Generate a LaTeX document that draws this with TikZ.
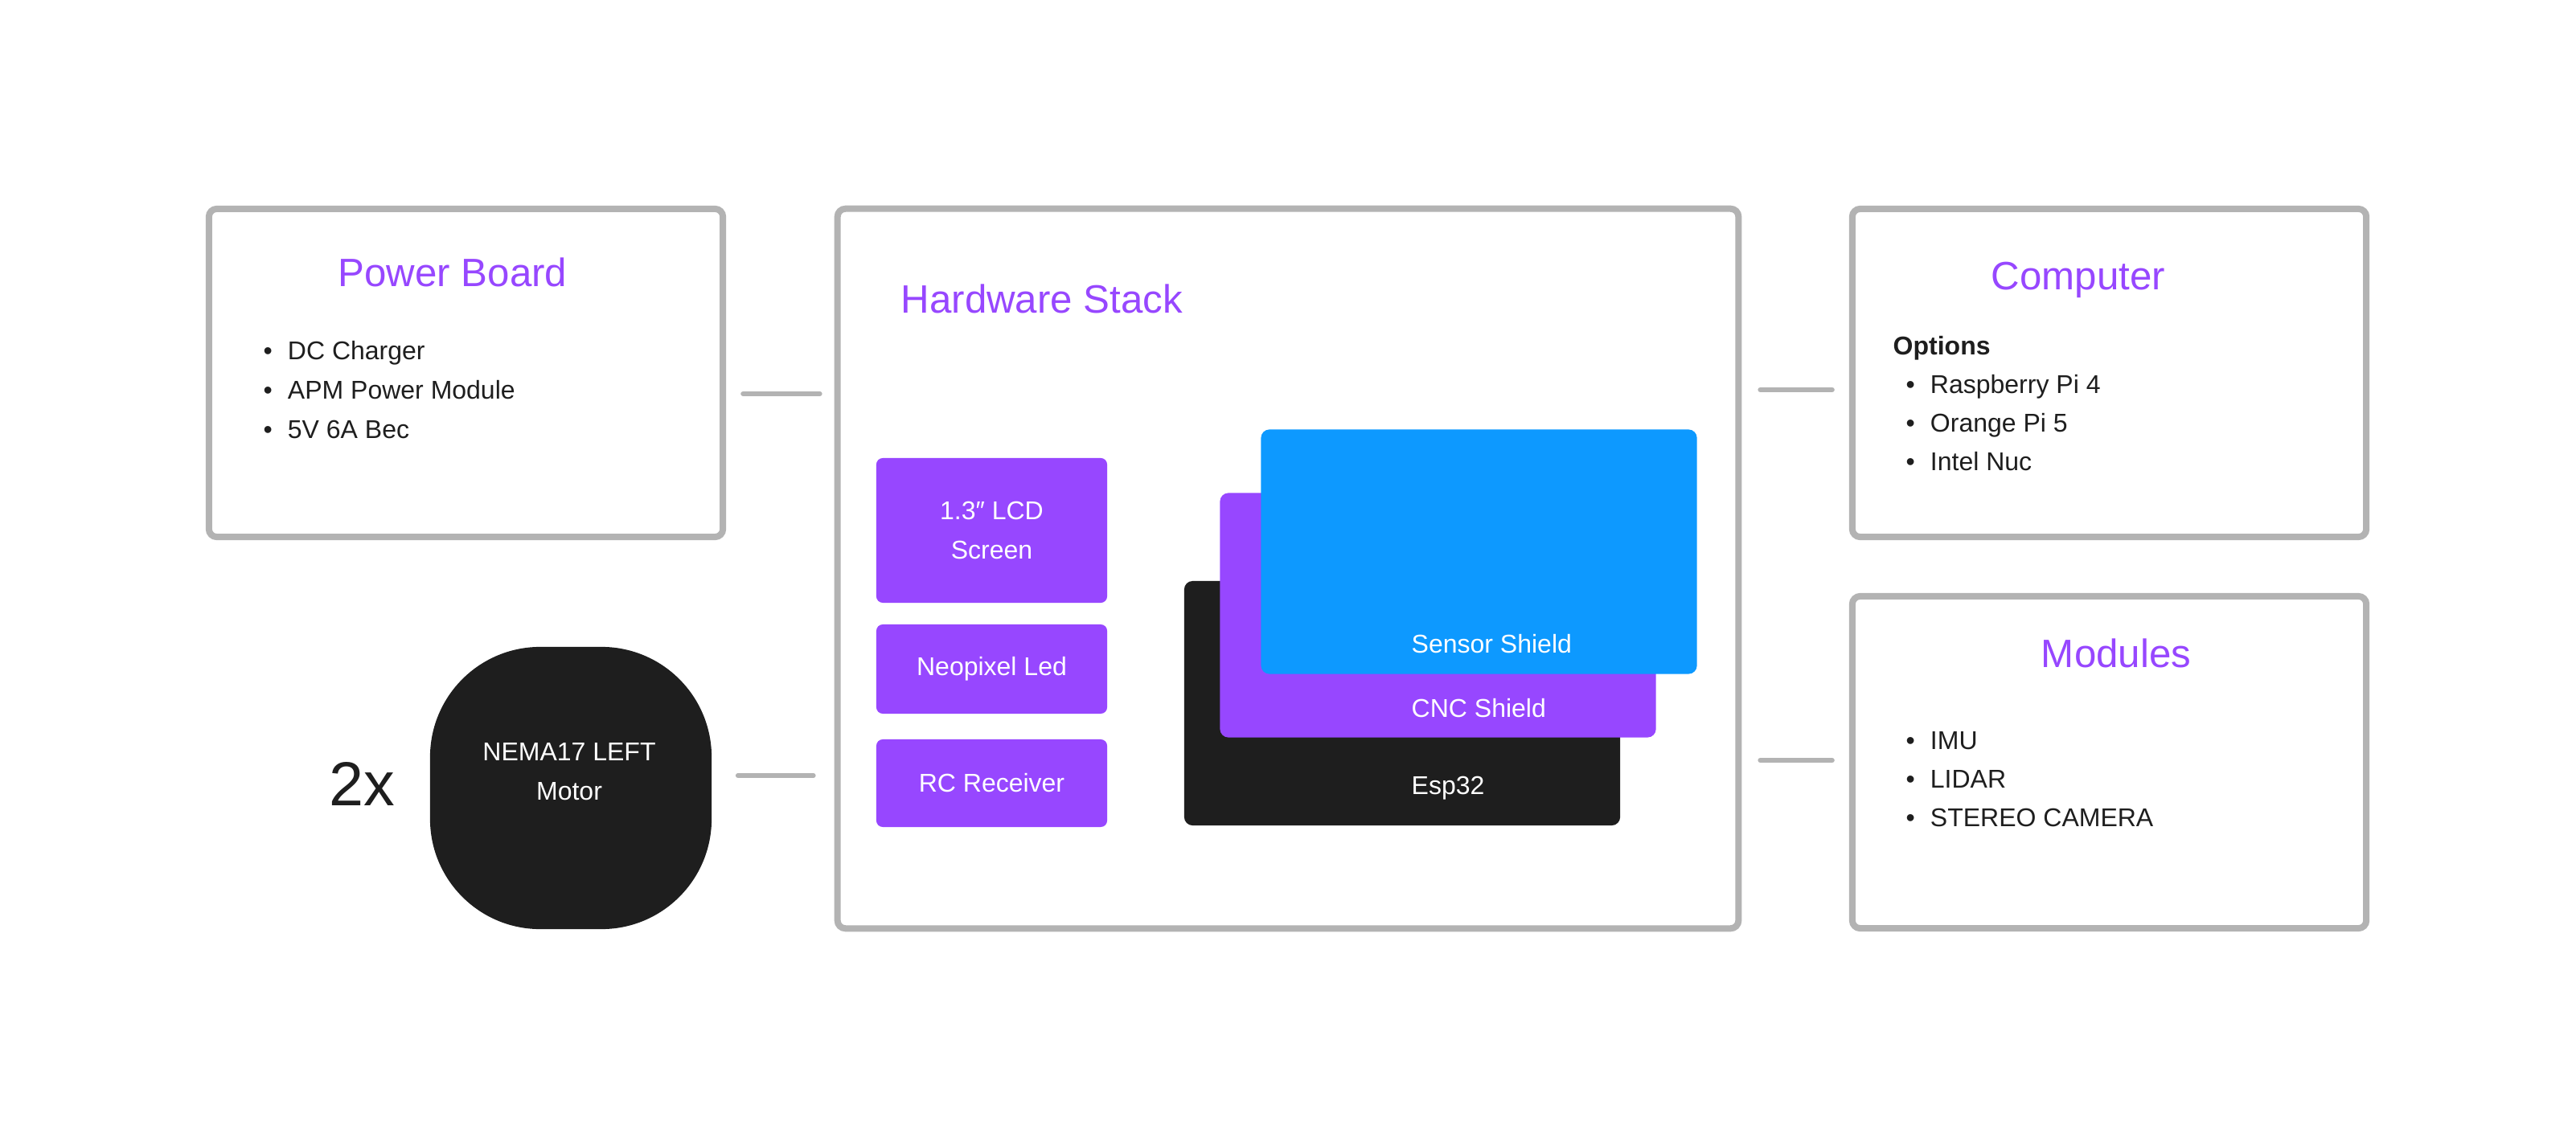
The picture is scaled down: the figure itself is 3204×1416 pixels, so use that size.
\documentclass[tikz,border=0pt]{standalone}
\usepackage{fontspec}
\setmainfont{Liberation Sans}
\usetikzlibrary{positioning,calc}
\definecolor{figPurple}{HTML}{9747FF}
\definecolor{figBlue}{HTML}{0D99FF}
\definecolor{figDark}{HTML}{1E1E1E}
\definecolor{figGrey}{HTML}{B3B3B3}
\newcommand{\bodyfont}{\fontsize{9.1}{13.66}\selectfont}
\newcommand{\titlefont}{\fontsize{14}{16}\selectfont}
\newcommand{\bitem}[1]{\makebox[8.6pt][l]{\textbullet}#1}
\tikzset{
  panel box/.style={
    rectangle, rounded corners=2.8pt,
    draw=figGrey, line width=2.28pt, fill=white,
  },
  part box/.style={
    rectangle, rounded corners=2.3pt,
    fill=figPurple, text=white, font=\bodyfont,
    minimum width=2.87cm, align=center,
  },
  board box/.style={
    rectangle, rounded corners=3pt,
    minimum width=5.42cm, minimum height=3.04cm,
  },
  motor box/.style={
    rectangle, rounded corners=1.37cm, fill=figDark,
    minimum width=3.5cm, minimum height=3.51cm,
  },
  panel title/.style={font=\titlefont, text=figPurple, inner sep=0pt, anchor=base},
  list item/.style={font=\bodyfont, text=figDark, inner sep=0pt, anchor=base west},
  on fill/.style={font=\bodyfont, text=white, inner sep=0pt, anchor=base},
  link/.style={draw=figGrey, line width=1.7pt, line cap=round},
}

\begin{document}
\begin{tikzpicture}[x=0.01cm, y=-0.01cm]
\useasboundingbox (0,0) rectangle (3204,1416);

% --- PANELS ---
\node[panel box, minimum width=6.39cm, minimum height=4.08cm] (pb) at (579.5,464) {};
\node[panel box, minimum width=11.2cm, minimum height=8.95cm] (hw) at (1602,707.5) {};
\node[panel box, minimum width=6.39cm, minimum height=4.08cm] (comp) at (2623.5,464) {};
\node[panel box, minimum width=6.39cm, minimum height=4.13cm] (mods) at (2623.5,948.5) {};

% --- TITLES ---
\node[panel title] (pbT) at (563,357) {Power Board};
\node[panel title, anchor=base west] (hwT) at (1120,390) {Hardware Stack};
\node[panel title] (compT) at (2585,361) {Computer};
\node[panel title] (modsT) at (2632,830) {Modules};

% --- LISTS ---
\foreach \i/\txt in {0/DC Charger, 1/APM Power Module, 2/5V 6A Bec}
  \node[list item] (pb\i) at (327,{448+48.5*\i}) {\bitem{\txt}};
\node[list item, font=\bodyfont\bfseries] (opts) at (2354,442) {Options};
\foreach \i/\txt in {0/Raspberry Pi 4, 1/Orange Pi 5, 2/Intel Nuc}
  \node[list item] (comp\i) at (2370,{490+47.5*\i}) {\bitem{\txt}};
\foreach \i/\txt in {0/IMU, 1/LIDAR, 2/STEREO CAMERA}
  \node[list item] (mods\i) at (2370,{932+48*\i}) {\bitem{\txt}};

% --- PARTS ---
\node[part box, minimum height=1.80cm] (lcd) at (1233.5,660) {1.3″ LCD\\Screen};
\node[part box, minimum height=1.11cm] (neo) at (1233.5,832.5) {Neopixel Led};
\node[part box, minimum height=1.09cm] (rc) at (1233.5,974.5) {RC Receiver};

% --- BOARD STACK (bottom to top) ---
\foreach \bname/\bx/\by/\bcol/\blabel/\ty in {%
  esp/1744/875/figDark/Esp32/988,%
  cnc/1788.5/765.5/figPurple/CNC Shield/892,%
  sensor/1839.5/686.5/figBlue/Sensor Shield/812%
}{
  \node[board box, fill=\bcol] (\bname) at (\bx,\by) {};
  \node[on fill, anchor=base west] (\bname-txt) at (1755,\ty) {\blabel};
}

% --- MOTOR ---
\node[motor box] (motor) at (710,980.5) {};
\node[on fill] (motorT1) at (708,946) {NEMA17 LEFT};
\node[on fill] (motorT2) at (708,995) {Motor};
\node[font=\fontsize{22}{26}\selectfont, text=figDark, inner sep=0pt, anchor=base]
  (count) at (450.5,1002) {2x};

% --- LINKS ---
\coordinate (yPB) at (0,490);
\coordinate (yMO) at (0,965);
\coordinate (yCO) at (0,485);
\coordinate (yMD) at (0,946);
\draw[link, shorten <=0.21cm, shorten >=0.18cm] (pb.east |- yPB) -- (hw.west |- yPB);
\draw[link, shorten <=0.32cm, shorten >=0.26cm] (motor.east |- yMO) -- (hw.west |- yMO);
\draw[link, shorten <=0.23cm, shorten >=0.21cm] (hw.east |- yCO) -- (comp.west |- yCO);
\draw[link, shorten <=0.23cm, shorten >=0.21cm] (hw.east |- yMD) -- (mods.west |- yMD);

\end{tikzpicture}
\end{document}
